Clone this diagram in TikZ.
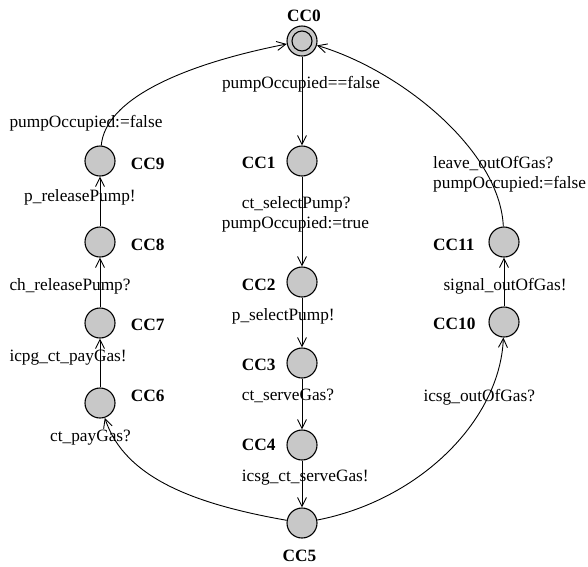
\documentclass[tikz,border=0pt]{standalone}
\usepackage{fontspec}
\setmainfont{Liberation Serif}
\usetikzlibrary{arrows.meta}
\definecolor{locgray}{RGB}{200,200,200}
\begin{document}
\begin{tikzpicture}[x=1pt,y=-1pt,
  loc/.style={circle,draw=black,fill=locgray,line width=1.1pt,minimum size=30pt,inner sep=0pt},
  lbl/.style={anchor=base west,inner sep=0pt,font=\fontsize{17.3}{20}\selectfont\bfseries},
  txt/.style={anchor=base west,inner sep=0pt,font=\fontsize{17.3}{20}\selectfont},
  tr/.style={draw=black,line width=0.9pt,-{Straight Barb[length=9pt,width=9pt]}}]
\useasboundingbox (0,0) rectangle (588,566);

% locations
\node[loc] (CC0) at (302,41) {};
\node[loc,minimum size=20pt] (CC0in) at (CC0) {};
\node[loc] (CC1) at (302,161) {};
\node[loc] (CC2) at (302,282) {};
\node[loc] (CC3) at (302,363) {};
\node[loc] (CC4) at (302,445) {};
\node[loc] (CC5) at (302,523) {};
\node[loc] (CC6) at (100,403) {};
\node[loc] (CC7) at (100,323) {};
\node[loc] (CC8) at (100,242) {};
\node[loc] (CC9) at (100,161) {};
\node[loc] (CC10) at (504,322) {};
\node[loc] (CC11) at (504,242) {};

% location names
\node[lbl,anchor=base] (nCC0) at (304,21) {CC0};
\node[lbl] (nCC1) at (241.7,168.5) {CC1};
\node[lbl] (nCC2) at (241.7,290) {CC2};
\node[lbl] (nCC3) at (241.7,370) {CC3};
\node[lbl] (nCC4) at (241.7,450) {CC4};
\node[lbl,anchor=base] (nCC5) at (299.5,561.5) {CC5};
\node[lbl] (nCC6) at (130.7,401) {CC6};
\node[lbl] (nCC7) at (130.7,330) {CC7};
\node[lbl] (nCC8) at (130.7,250) {CC8};
\node[lbl] (nCC9) at (130.7,169) {CC9};
\node[lbl] (nCC10) at (433,329.5) {CC10};
\node[lbl] (nCC11) at (433,250) {CC11};

% transitions
\draw[tr] (CC0) -- (CC1);
\draw[tr] (CC1) -- (CC2);
\draw[tr] (CC2) -- (CC3);
\draw[tr] (CC3) -- (CC4);
\draw[tr] (CC4) -- (CC5);
\draw[tr] (CC5) .. controls (200,505) and (125,480) .. (CC6);
\draw[tr] (CC6) -- (CC7);
\draw[tr] (CC7) -- (CC8);
\draw[tr] (CC8) -- (CC9);
\draw[tr] (CC9) .. controls (105,100) and (180,65) .. (CC0);
\draw[tr] (CC5) .. controls (420,500) and (500,420) .. (CC10);
\draw[tr] (CC10) -- (CC11);
\draw[tr] (CC11) .. controls (500,150) and (400,70) .. (CC0);

% guards, synchronisations and updates
\node[txt,anchor=base] (g01) at (301,88) {pumpOccupied==false};
\node[txt] (s12) at (241.7,208.3) {ct\_selectPump?};
\node[txt] (u12) at (221.7,228.3) {pumpOccupied:=true};
\node[txt] (s23) at (231.7,320) {p\_selectPump!};
\node[txt] (s34) at (241.7,400) {ct\_serveGas?};
\node[txt] (s45) at (241.7,481.7) {icsg\_ct\_serveGas!};
\node[txt] (s56) at (50,441) {ct\_payGas?};
\node[txt] (s67) at (9.3,361) {icpg\_ct\_payGas!};
\node[txt] (s78) at (9.3,290) {ch\_releasePump?};
\node[txt] (s89) at (24,201.7) {p\_releasePump!};
\node[txt] (u90) at (9.3,127.7) {pumpOccupied:=false};
\node[txt] (s510) at (423.3,401) {icsg\_outOfGas?};
\node[txt] (s1011) at (443.3,290) {signal\_outOfGas!};
\node[txt] (s110) at (433,168.3) {leave\_outOfGas?};
\node[txt] (u110) at (433,188.3) {pumpOccupied:=false};
\end{tikzpicture}
\end{document}
